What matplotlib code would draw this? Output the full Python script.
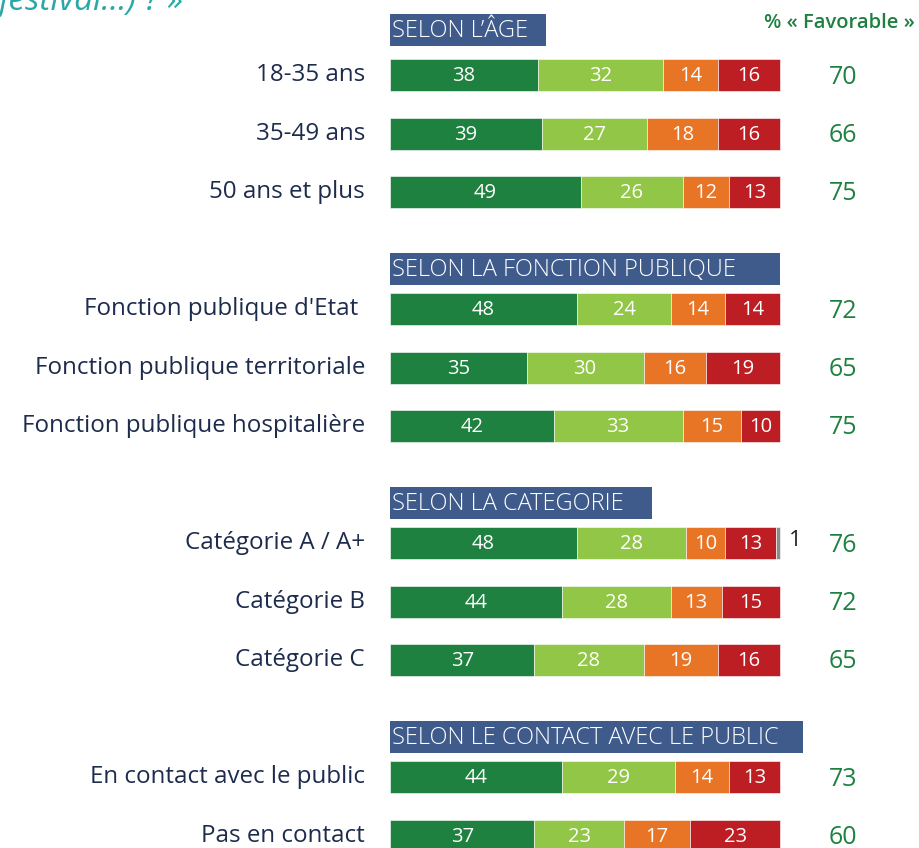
import matplotlib.pyplot as plt
from matplotlib.patches import Rectangle

plt.rcParams['font.family'] = ['Open Sans', 'DejaVu Sans']

# data
headers = ["SELON L\u2019ÂGE", "SELON LA FONCTION PUBLIQUE",
           "SELON LA CATEGORIE", "SELON LE CONTACT AVEC LE PUBLIC"]
header_widths = [40, 100, 67.2, 106]  # box widths in % units
groups = [
    ["18-35 ans", "35-49 ans", "50 ans et plus"],
    ["Fonction publique d'Etat ", "Fonction publique territoriale", "Fonction publique hospitalière"],
    ["Catégorie A / A+", "Catégorie B", "Catégorie C"],
    ["En contact avec le public", "Pas en contact"],
]
tres_fav = [38, 39, 49, 48, 35, 42, 48, 44, 37, 44, 37]
plutot_fav = [32, 27, 26, 24, 30, 33, 28, 28, 28, 29, 23]
plutot_defav = [14, 18, 12, 14, 16, 15, 10, 13, 19, 14, 17]
tres_defav = [16, 16, 13, 14, 19, 10, 13, 15, 16, 13, 23]
nsp = [0, 0, 0, 0, 0, 0, 1, 0, 0, 0, 0]
favorable = [70, 66, 75, 72, 65, 75, 76, 72, 65, 73, 60]

series = [tres_fav, plutot_fav, plutot_defav, tres_defav, nsp]
colors = ['#1e8140', '#92c647', '#e87425', '#bd1e24', '#8c8c8c']
header_col = '#3f5b8c'
label_col = '#1d2b4c'
green_txt = '#1e8140'

W, H = 919, 848
scale = 3.9  # pixels per percent
x0 = 390     # pixel of 0 %

fig = plt.figure(figsize=(W / 100, H / 100), dpi=100)
ax = fig.add_axes([0, 0, 1, 1])
ax.set_xlim(-x0 / scale, (W - x0) / scale)
ax.set_ylim(H, 0)
ax.axis('off')

# layout (pixel rows)
y = 30
row_y, head_y = [], []
for k, g in enumerate(groups):
    head_y.append(y)
    y += 45 if k == 0 else 40
    for _ in g:
        row_y.append(y)
        y += 58.5
    y += 77 - 58.5

bar_h = 32
for hy, txt, w in zip(head_y, headers, header_widths):
    ax.add_patch(Rectangle((0, hy - bar_h / 2), w, bar_h, color=header_col, lw=0))
    ax.text(0.6, hy + 1, txt, color='white', fontsize=17, va='center', ha='left',
            fontweight='light')

labels = [l for g in groups for l in g]
for i, (yy, lab) in enumerate(zip(row_y, labels)):
    left = 0
    for s, c in zip(series, colors):
        v = s[i]
        if v == 0:
            continue
        ax.barh(yy, v, left=left, height=bar_h, color=c, edgecolor='white', linewidth=0.4)
        if c != '#8c8c8c':
            ax.text(left + v / 2, yy + 1, str(v), color='white', fontsize=14.5,
                    ha='center', va='center')
        else:
            ax.text(left + v + 2.2, yy - 3, str(v), color='#222222', fontsize=16,
                    ha='left', va='center')
        left += v
    ax.text(-25 / scale, yy, lab, color=label_col, fontsize=17.4, ha='right', va='center')
    ax.text(116.2, yy + 2, str(favorable[i]), color=green_txt, fontsize=18,
            ha='center', va='center')

ax.text((915 - x0) / scale, 23, "% « Favorable »", color=green_txt, fontsize=14.5,
        fontweight='semibold', ha='right', va='center')
ax.text((184 - x0) / scale, 10, "festival...) ? »", color='#2aa8a8', fontsize=24,
        style='italic', ha='right', va='baseline')

fig.savefig('out.png', dpi=100)
